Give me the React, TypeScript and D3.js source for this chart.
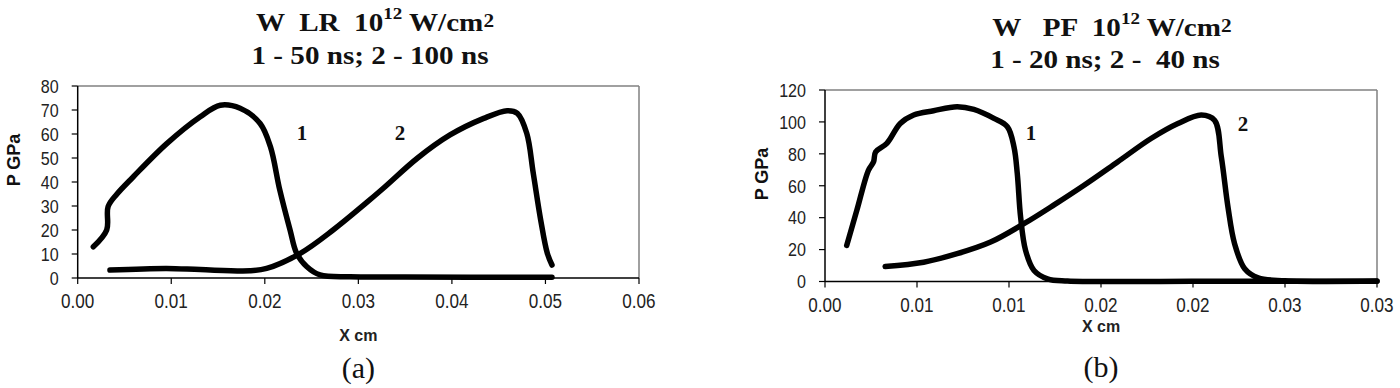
import React from "react";
import * as d3 from "d3";

// ---------- Data ----------
// Panel (a): W LR, curves 1 (50 ns) and 2 (100 ns)
const aCurve1X = [0.00167, 0.0031, 0.00325, 0.0042, 0.00595, 0.00952, 0.0131, 0.01524, 0.01736, 0.0195, 0.0206, 0.0216, 0.0227, 0.0234, 0.0245, 0.0259, 0.0291, 0.035, 0.042, 0.0507];
const aCurve1Y = [13, 20, 29.7, 35, 42.2, 56, 67.2, 72, 70.7, 64.4, 54.7, 36.7, 20, 10.3, 4.7, 1.3, 0.5, 0.4, 0.3, 0.3];
const aCurve2X = [0.00345, 0.0095, 0.0131, 0.0184, 0.0202, 0.0238, 0.0273, 0.0309, 0.0327, 0.0363, 0.0398, 0.0434, 0.0459, 0.047, 0.048, 0.0487, 0.0495, 0.0502, 0.0507];
const aCurve2Y = [3.3, 4, 3.5, 3, 4, 10.3, 20, 31.5, 37.5, 49.9, 59.6, 66.5, 69.7, 68.6, 60.3, 43.6, 24, 10.3, 5.4];

// Panel (b): W PF, curves 1 (20 ns) and 2 (40 ns)
const bCurve1X = [0.00118, 0.00173, 0.00236, 0.00264, 0.00275, 0.00336, 0.00409, 0.00482, 0.0059, 0.00718, 0.00809, 0.00918, 0.00991, 0.01027, 0.01045, 0.01063, 0.0109, 0.01136, 0.01209, 0.01318, 0.02, 0.03];
const bCurve1Y = [22.6, 44.6, 69.7, 75, 81.2, 86.5, 99, 104.3, 107, 109.5, 107.8, 102.2, 97, 84.4, 67.7, 40.4, 19.5, 6.9, 1.7, 0.3, 0.2, 0.2];
const bCurve2X = [0.00327, 0.00536, 0.00718, 0.009, 0.01081, 0.01245, 0.01408, 0.0159, 0.01772, 0.01918, 0.02045, 0.02117, 0.02154, 0.0219, 0.02226, 0.02281, 0.02354, 0.025, 0.03];
const bCurve2Y = [9.4, 12.1, 17.4, 24.7, 36.2, 48, 60.3, 74.9, 89.6, 99, 104.3, 101, 78, 46.7, 23.7, 8, 2.3, 0.5, 0.3];

// Ticks
const aXTicks = [0, 0.01, 0.02, 0.03, 0.04, 0.05, 0.06];
const aXTickLabels = ["0.00", "0.01", "0.02", "0.03", "0.04", "0.05", "0.06"];
const aYTicks = [0, 10, 20, 30, 40, 50, 60, 70, 80];
const bXTicks = [0, 0.005, 0.01, 0.015, 0.02, 0.025, 0.03];
const bXTickLabels = ["0.00", "0.01", "0.01", "0.02", "0.02", "0.03", "0.03"];
const bYTicks = [0, 20, 40, 60, 80, 100, 120];

type Pt = [number, number];
const zip = (xs: number[], ys: number[]): Pt[] => xs.map((x, i) => [x, ys[i]]);

interface PanelProps {
  left: number; right: number; top: number; bottom: number;
  xMax: number; yMax: number;
  xTicks: number[]; xTickLabels: string[]; yTicks: number[];
  curves: Pt[][];
  curveLabels: { text: string; x: number; y: number }[];
  title1: { cx: number; y: number; a: string; sup: string; b: string };
  title2: { cx: number; y: number; text: string };
  yLabel: { x: number; y: number };
  xLabelY: number;
  letter: { text: string; y: number };
}

function Panel(p: PanelProps) {
  const x = d3.scaleLinear().domain([0, p.xMax]).range([p.left, p.right]);
  const y = d3.scaleLinear().domain([0, p.yMax]).range([p.bottom, p.top]);
  const line = d3.line<Pt>().x(d => x(d[0])).y(d => y(d[1])).curve(d3.curveCatmullRom.alpha(0.5));
  const cx = (p.left + p.right) / 2;
  const serif = "'Liberation Serif', 'Times New Roman', serif";
  const sans = "'Liberation Sans', Arial, sans-serif";
  return (
    <g>
      {/* frame top/right */}
      <line x1={p.left} x2={p.right} y1={p.top} y2={p.top} stroke="#808080" strokeWidth={1.5} />
      <line x1={p.right} x2={p.right} y1={p.top} y2={p.bottom} stroke="#808080" strokeWidth={1.5} />
      {/* curves */}
      {p.curves.map((c, i) => (
        <path key={i} d={line(c) || ""} fill="none" stroke="#000" strokeWidth={5.5} strokeLinecap="round" strokeLinejoin="round" />
      ))}
      {/* axes */}
      <line x1={p.left} x2={p.left} y1={p.top} y2={p.bottom} stroke="#000" strokeWidth={1.5} />
      <line x1={p.left} x2={p.right} y1={p.bottom} y2={p.bottom} stroke="#000" strokeWidth={1.5} />
      {p.yTicks.map(t => (
        <g key={"y" + t}>
          <line x1={p.left - 6} x2={p.left} y1={y(t)} y2={y(t)} stroke="#000" strokeWidth={1.2} />
          <text transform={`translate(${p.left - 19},${y(t)}) scale(0.92,1.08)`} dy="0.36em" textAnchor="end" fontFamily={sans} fontSize={17.5} fill="#222">{t}</text>
        </g>
      ))}
      {p.xTicks.map((t, i) => (
        <g key={"x" + i}>
          <line x1={x(t)} x2={x(t)} y1={p.bottom} y2={p.bottom + 6} stroke="#000" strokeWidth={1.2} />
          <text transform={`translate(${x(t)},${p.bottom + 30}) scale(0.95,1.08)`} textAnchor="middle" fontFamily={sans} fontSize={18} fill="#222">{p.xTickLabels[i]}</text>
        </g>
      ))}
      {/* axis titles */}
      <text transform={`translate(${p.yLabel.x},${p.yLabel.y}) rotate(-90)`} textAnchor="middle" fontFamily={sans} fontWeight="bold" fontSize={18} fill="#111">P GPa</text>
      <text x={cx} y={p.xLabelY} textAnchor="middle" fontFamily={sans} fontWeight="bold" fontSize={16} fill="#222">X cm</text>
      {/* curve labels */}
      {p.curveLabels.map((l, i) => (
        <text key={i} x={l.x} y={l.y} textAnchor="middle" fontFamily={serif} fontWeight="bold" fontSize={21} fill="#111">{l.text}</text>
      ))}
      {/* titles */}
      <text transform={`translate(${p.title1.cx},${p.title1.y}) scale(1.12,1)`} textAnchor="middle" fontFamily={serif} fontWeight="bold" fontSize={26} fill="#111" style={{ whiteSpace: "pre" }}>
        <tspan>{p.title1.a}</tspan>
        <tspan fontSize={17} dy={-12}>{p.title1.sup}</tspan>
        <tspan dy={12}>{p.title1.b}</tspan>
        <tspan fontSize={19} dy={-4}>2</tspan>
      </text>
      <text transform={`translate(${p.title2.cx},${p.title2.y}) scale(1.12,1)`} textAnchor="middle" fontFamily={serif} fontWeight="bold" fontSize={26} fill="#111" style={{ whiteSpace: "pre" }}>{p.title2.text}</text>
      {/* panel letter */}
      <text x={cx} y={p.letter.y} textAnchor="middle" fontFamily={serif} fontSize={30} fill="#111">{p.letter.text}</text>
    </g>
  );
}

export default function App() {
  return (
    <svg width={1400} height={388} viewBox="0 0 1400 388" style={{ position: "absolute", left: 0, top: 0, background: "#fff" }}>
      <rect width={1400} height={388} fill="#fff" />
      <Panel
        left={77.7} right={639} top={86} bottom={278}
        xMax={0.06} yMax={80}
        xTicks={aXTicks} xTickLabels={aXTickLabels} yTicks={aYTicks}
        curves={[zip(aCurve1X, aCurve1Y), zip(aCurve2X, aCurve2Y)]}
        curveLabels={[{ text: "1", x: 302, y: 140 }, { text: "2", x: 400, y: 140 }]}
        title1={{ cx: 375, y: 31, a: "W  LR  10", sup: "12", b: " W/cm" }}
        title2={{ cx: 370, y: 64, text: "1 - 50 ns; 2 - 100 ns" }}
        yLabel={{ x: 20, y: 160 }}
        xLabelY={341}
        letter={{ text: "(a)", y: 378 }}
      />
      <Panel
        left={825} right={1377} top={90} bottom={281.5}
        xMax={0.03} yMax={120}
        xTicks={bXTicks} xTickLabels={bXTickLabels} yTicks={bYTicks}
        curves={[zip(bCurve1X, bCurve1Y), zip(bCurve2X, bCurve2Y)]}
        curveLabels={[{ text: "1", x: 1031, y: 140 }, { text: "2", x: 1243, y: 131 }]}
        title1={{ cx: 1112, y: 36, a: "W   PF  10", sup: "12", b: " W/cm" }}
        title2={{ cx: 1105, y: 68, text: "1 - 20 ns; 2 -  40 ns" }}
        yLabel={{ x: 768, y: 174 }}
        xLabelY={332}
        letter={{ text: "(b)", y: 377 }}
      />
    </svg>
  );
}
